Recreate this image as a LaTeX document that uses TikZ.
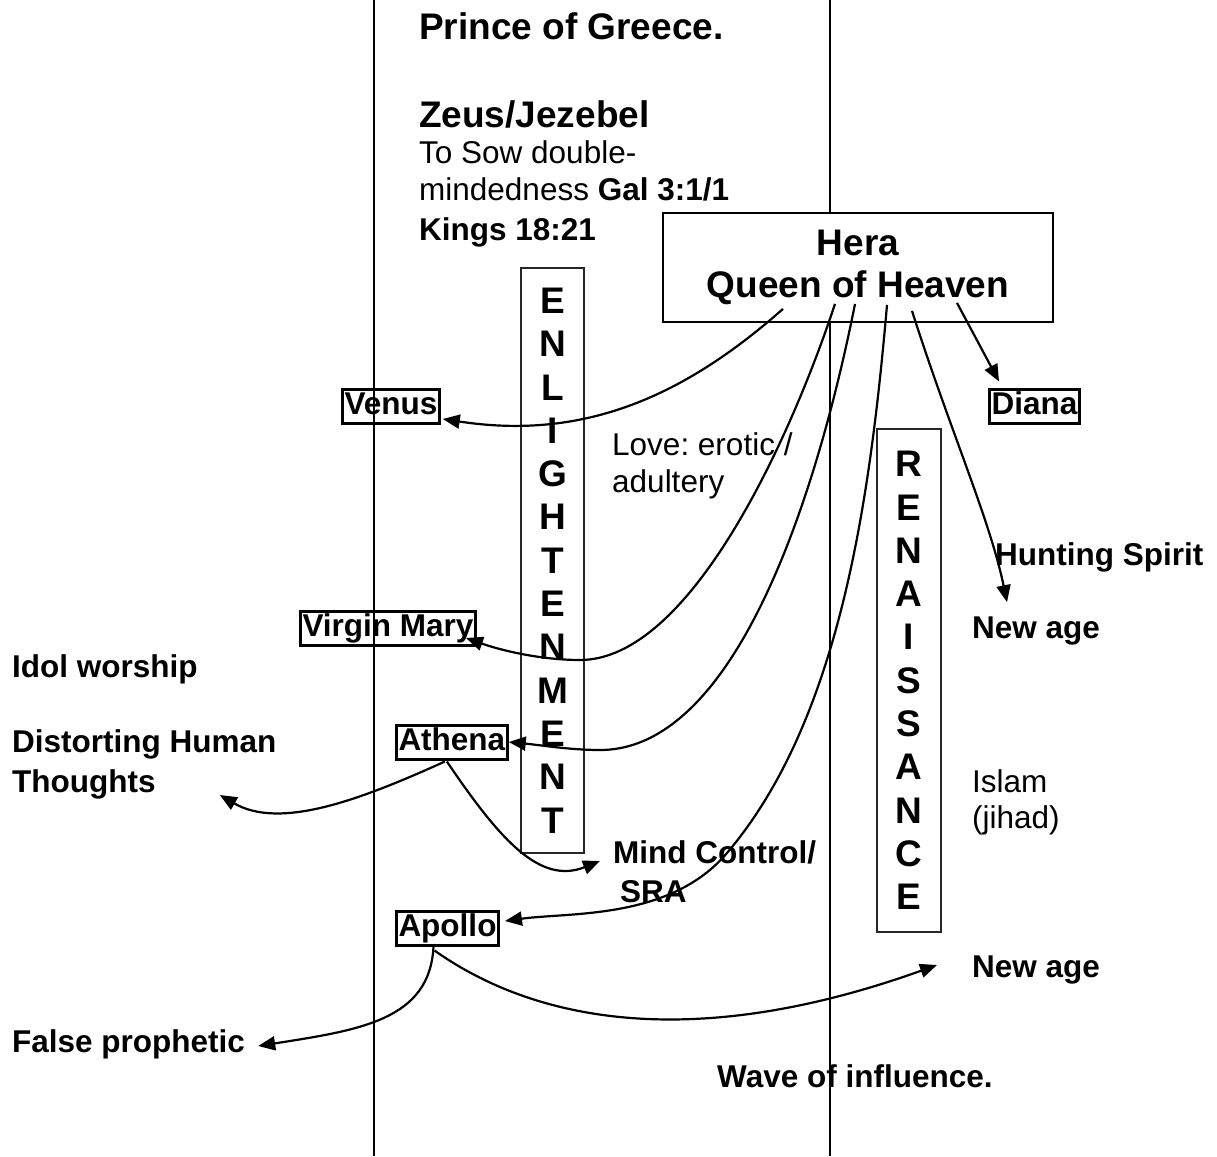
\documentclass[tikz,border=0pt]{standalone}
\usepackage{fontspec}
\setmainfont{Liberation Sans}
\usetikzlibrary{arrows.meta,calc}
\frenchspacing

\newcommand{\bigf}{\fontsize{37}{42}\selectfont\bfseries}
\newcommand{\eraf}{\fontsize{37}{43.3}\selectfont\bfseries}
\newcommand{\labf}{\fontsize{31.5}{37}\selectfont\bfseries}
\newcommand{\plainf}{\fontsize{31.5}{37}\selectfont}

\tikzset{
  head/.style={anchor=base west, inner sep=0pt, font=\bigf},
  lbl/.style={anchor=base west, inner sep=0pt, font=\labf},
  txt/.style={anchor=base west, inner sep=0pt, font=\plainf},
  godbox/.style={draw, line width=3pt, inner sep=2pt, text height=23pt, text depth=7pt, anchor=west, font=\labf},
  erabox/.style={draw=black!85, line width=1.3pt, inner sep=0pt, align=center, font=\eraf},
  wave/.style={line width=2.2pt, arrows={-Triangle[length=17pt,width=14pt]}},
}

\begin{document}
\begin{tikzpicture}[x=1pt, y=-1pt]
\useasboundingbox (0,0) rectangle (1217,1156);

% dividing lines
\draw[line width=1.4pt] (374,0) -- (374,1156);
\draw[line width=1.4pt] (830,0) -- (830,1156);

% heading
\node[head] (prince) at (419,40) {Prince of Greece.};
\node[head] (zeus)   at (419,127) {Zeus/Jezebel};
\node[txt]  (sow1)   at (419,163) {To Sow double-};
\node[txt]  (sow2)   at (419,200) {mindedness \textbf{Gal 3:1/1}};
\node[lbl]  (kings)  at (419,240) {Kings 18:21};

% queen
\node[draw, fill=white, line width=1.8pt, minimum width=390pt, minimum height=109pt,
      align=center, font=\bigf] (hera) at (858,267.5) {Hera\\Queen of Heaven};

% eras
\node[erabox, minimum width=63pt, minimum height=585pt] (enl) at (552.5,560.5)
  {E\\N\\L\\I\\G\\H\\T\\E\\N\\M\\E\\N\\T};
\node[erabox, minimum width=64pt, minimum height=503pt] (ren) at (909,680.5)
  {R\\E\\N\\A\\I\\S\\S\\A\\N\\C\\E};

% boxed gods
\node[godbox] (venus)  at (341,406) {Venus};
\node[godbox] (virgin) at (299,628) {Virgin Mary};
\node[godbox] (athena) at (395,742) {Athena};
\node[godbox] (apollo) at (395,928) {Apollo};
\node[godbox] (diana)  at (988,406) {Diana};

% labels
\node[txt] (love)    at (612,455) {Love: erotic /};
\node[txt] (adult)   at (612,492) {adultery};
\node[lbl] (hunt)    at (995,565) {Hunting Spirit};
\node[lbl] (newage1) at (972,638) {New age};
\node[lbl] (idol)    at (12,677) {Idol worship};
\node[lbl] (distort) at (12,752) {Distorting Human};
\node[lbl] (thoughts) at (12,792) {Thoughts};
\node[txt] (islam)   at (972,792) {Islam};
\node[txt] (jihad)   at (972,828) {(jihad)};
\node[lbl] (mind)    at (613,863) {Mind Control/};
\node[lbl] (sra)     at (620,902) {SRA};
\node[lbl] (newage2) at (972,977) {New age};
\node[lbl] (falsep)  at (12,1052) {False prophetic};
\node[lbl] (wavei)   at (717,1087) {Wave of influence.};

% from Hera
\draw[wave] ($(hera.south)+(-75,-14)$) .. controls (680,400) and (580,440) .. ($(venus.east)+(2,13)$);
\draw[wave] ($(hera.south)+(-23,-19)$) .. controls (790,440) and (690,660) .. (580,660)
  .. controls (540,660) and (500,650) .. ($(virgin.east)+(-11,10)$);
\draw[wave] ($(hera.south)+(-3,-19)$) .. controls (820,480) and (740,750) .. (600,750)
  .. controls (570,750) and (540,745) .. (athena.east);
\draw[wave] ($(hera.south)+(29,-18)$) .. controls (870,500) and (840,720) .. (727,853)
  .. controls (670,920) and (570,912) .. ($(apollo.east)+(5,-7)$);
\draw[wave] ($(hera.south)+(54,-12)$) .. controls (950,430) and (990,520) .. ($(newage1.north west)+(35,-14)$);
\draw[wave] ($(hera.south)+(99,-20)$) -- ($(diana.north west)+(11,-6)$);

% from Athena
\draw[wave] ($(athena.south)+(-7,1)$) .. controls (360,800) and (280,830) .. ($(thoughts.base east)+(64,3)$);
\draw[wave] ($(athena.south)+(-5,1)$) .. controls (500,840) and (540,885) .. ($(mind.base west)+(-13,-2)$);

% from Apollo
\draw[wave] ($(apollo.south)+(-14,0)$) .. controls (430,1020) and (360,1030) .. ($(falsep.base east)+(13,-6)$);
\draw[wave] ($(apollo.south)+(-13,4)$) .. controls (540,1025) and (700,1050) .. ($(newage2.base west)+(-35,-12)$);
\end{tikzpicture}
\end{document}
